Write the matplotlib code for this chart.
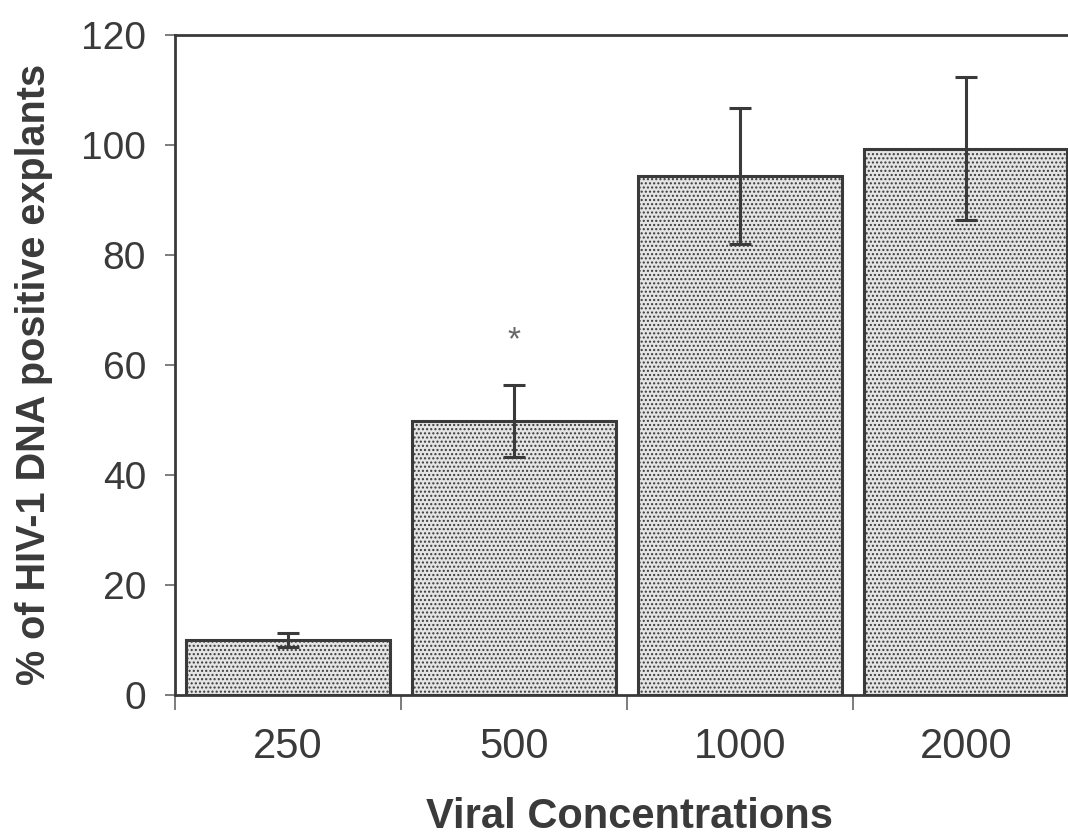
import numpy as np
import matplotlib
matplotlib.use("Agg")
import matplotlib.pyplot as plt

concentrations = ["250", "500", "1000", "2000"]
pct_positive = [10.0, 49.8, 94.4, 99.3]
pct_error = [1.3, 6.6, 12.4, 13.0]
significant = [False, True, False, False]

plt.rcParams['font.family'] = ['Liberation Sans', 'DejaVu Sans']
plt.rcParams['hatch.color'] = "#c8c8c8"

fig = plt.figure(figsize=(10.68, 8.35), dpi=100)
ax = fig.add_axes([0.164, 0.168, 0.846, 0.790])

x = np.arange(len(concentrations)) + 0.5
edge = "#3a3a3a"
ax.bar(x, pct_positive, width=0.9, color="#e4e4e4", edgecolor=edge,
       linewidth=2.2, hatch="....", zorder=2)
ax.errorbar(x, pct_positive, yerr=pct_error, fmt="none", ecolor=edge,
            elinewidth=2.2, capsize=8, capthick=2.2, zorder=3)
# asterisk marks the significant group
for xi, v, e, s in zip(x, pct_positive, pct_error, significant):
    if s:
        ax.text(xi, v + e + 8, "*", ha="center", va="center",
                fontsize=24, color="#666666")

ax.set_xlim(0, 4)
ax.set_ylim(0, 120)
ax.set_yticks(np.arange(0, 121, 20))
ax.set_xticks(np.arange(0, 5))
ax.set_xticklabels([])
ax.set_xticks(x, minor=True)
ax.set_xticklabels(concentrations, minor=True)
ax.tick_params(axis="x", which="minor", length=0, pad=23, labelsize=30,
               colors="#3a3a3a")
ax.tick_params(axis="x", which="major", length=11, width=1.2,
               color="#666666")
ax.tick_params(axis="y", length=7, width=1.2, labelsize=28, pad=14,
               colors="#3a3a3a", color="#666666")
for sp in ["left", "bottom", "top"]:
    ax.spines[sp].set_color(edge)
    ax.spines[sp].set_linewidth(2.0)
ax.spines["right"].set_visible(False)

ax.set_ylabel("% of HIV-1 DNA positive explants", fontsize=28.5,
              fontweight="bold", color="#3a3a3a")
ax.yaxis.set_label_coords(-0.135, 0.485)
ax.set_xlabel("Viral Concentrations", fontsize=30, fontweight="bold",
              color="#3a3a3a")
ax.xaxis.set_label_coords(0.503, -0.155)

fig.savefig("out.png", dpi=100)
